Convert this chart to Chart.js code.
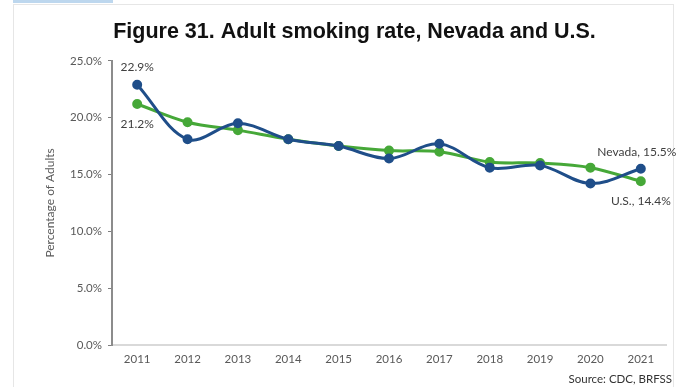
<!DOCTYPE html>
<html>
<head>
<meta charset="utf-8">
<script src="https://cdn.jsdelivr.net/npm/chart.js@4"></script>
<style>
    body { margin: 0; background: #fff; }
    #wrap { position: relative; width: 683px; height: 387px; }
    .bar { position: absolute; left: 13px; top: 0; width: 100px; height: 3px; background: #bdd7ee; }
    .frame { position: absolute; left: 13px; top: 4px; width: 659px; height: 382px; border: 1px solid #e6e6e6; border-bottom: none; }
    #source { position: absolute; right: 11px; top: 372px; font: 11.5px Lato, sans-serif; color: #333; }
    canvas { position: absolute; left: 0; top: 0; }
</style>
</head>
<body>
<div id="wrap">
    <div class="bar"></div>
    <div class="frame"></div>
    <canvas id="myChart" width="683" height="387"></canvas>
    <div id="source">Source: CDC, BRFSS</div>
</div>
<script>
const years = ['2011', '2012', '2013', '2014', '2015', '2016', '2017', '2018', '2019', '2020', '2021'];
const nevada = [22.9, 18.1, 19.5, 18.1, 17.5, 16.4, 17.7, 15.6, 15.8, 14.2, 15.5];
const us = [21.2, 19.6, 18.9, 18.1, 17.5, 17.1, 17.0, 16.1, 16.0, 15.6, 14.4];
const yTicks = [0, 5, 10, 15, 20, 25];

// labels next to a few points: [dataset, index, text, dx, dy]
const pointLabels = [
    [0, 0, '22.9%', 0, -18],
    [1, 0, '21.2%', 0, 20],
    [0, 10, 'Nevada, 15.5%', -4, -17],
    [1, 10, 'U.S., 14.4%', 0, 20]
];

const labelPlugin = {
    id: 'pointLabels',
    afterDatasetsDraw(chart) {
        const ctx = chart.ctx;
        ctx.save();
        ctx.font = '12px Lato, sans-serif';
        ctx.fillStyle = '#404040';
        ctx.textAlign = 'center';
        ctx.textBaseline = 'middle';
        pointLabels.forEach(([ds, i, text, dx, dy]) => {
            const pt = chart.getDatasetMeta(ds).data[i];
            ctx.fillText(text, pt.x + dx, pt.y + dy);
        });
        ctx.restore();
    }
};

const renderChart = () => {
    var ctx = document.getElementById('myChart').getContext('2d');
    new Chart(ctx, {
        type: 'line',
        data: {
            labels: years,
            datasets: [{
                label: 'Nevada',
                data: nevada,
                borderColor: '#1f4e89',
                backgroundColor: '#1f4e89',
                borderWidth: 3,
                pointRadius: 3.5,
                tension: 0.35
            }, {
                label: 'U.S.',
                data: us,
                borderColor: '#46a838',
                backgroundColor: '#46a838',
                borderWidth: 3,
                pointRadius: 3.5,
                tension: 0.35
            }]
        },
        options: {
            responsive: false,
            animation: false,
            layout: { padding: { left: 43, right: 17, top: 0, bottom: 0 } },
            plugins: {
                legend: { display: false },
                tooltip: { enabled: false },
                title: {
                    display: true,
                    text: 'Figure 31. Adult smoking rate, Nevada and U.S.',
                    color: '#111',
                    font: { family: 'Liberation Sans', size: 21.5, weight: 'bold' },
                    padding: { top: 19, bottom: 16 }
                }
            },
            scales: {
                x: {
                    offset: true,
                    grid: { display: false, drawTicks: false },
                    border: { display: true, color: '#d9d9d9', width: 2 },
                    ticks: { color: '#595959', font: { family: 'Lato', size: 11.5 }, padding: 7 },
                    afterFit: (scale) => { scale.height = 42; }
                },
                y: {
                    min: 0,
                    max: 25,
                    afterBuildTicks: (scale) => { scale.ticks = yTicks.map(v => ({ value: v })); },
                    grid: { drawOnChartArea: false, drawTicks: true, tickLength: 4, color: '#7f7f7f' },
                    border: { display: true, color: '#8c8c8c', width: 2 },
                    ticks: {
                        color: '#595959',
                        font: { family: 'Lato', size: 11.5 },
                        padding: 6,
                        callback: (v) => v.toFixed(1) + '%'
                    },
                    title: {
                        display: true,
                        text: 'Percentage of Adults',
                        color: '#595959',
                        font: { family: 'Lato', size: 12 },
                        padding: 0
                    },
                    afterFit: (scale) => { scale.width = 112 - 43; }
                }
            }
        },
        plugins: [labelPlugin]
    });
};

renderChart();
</script>
</body>
</html>
